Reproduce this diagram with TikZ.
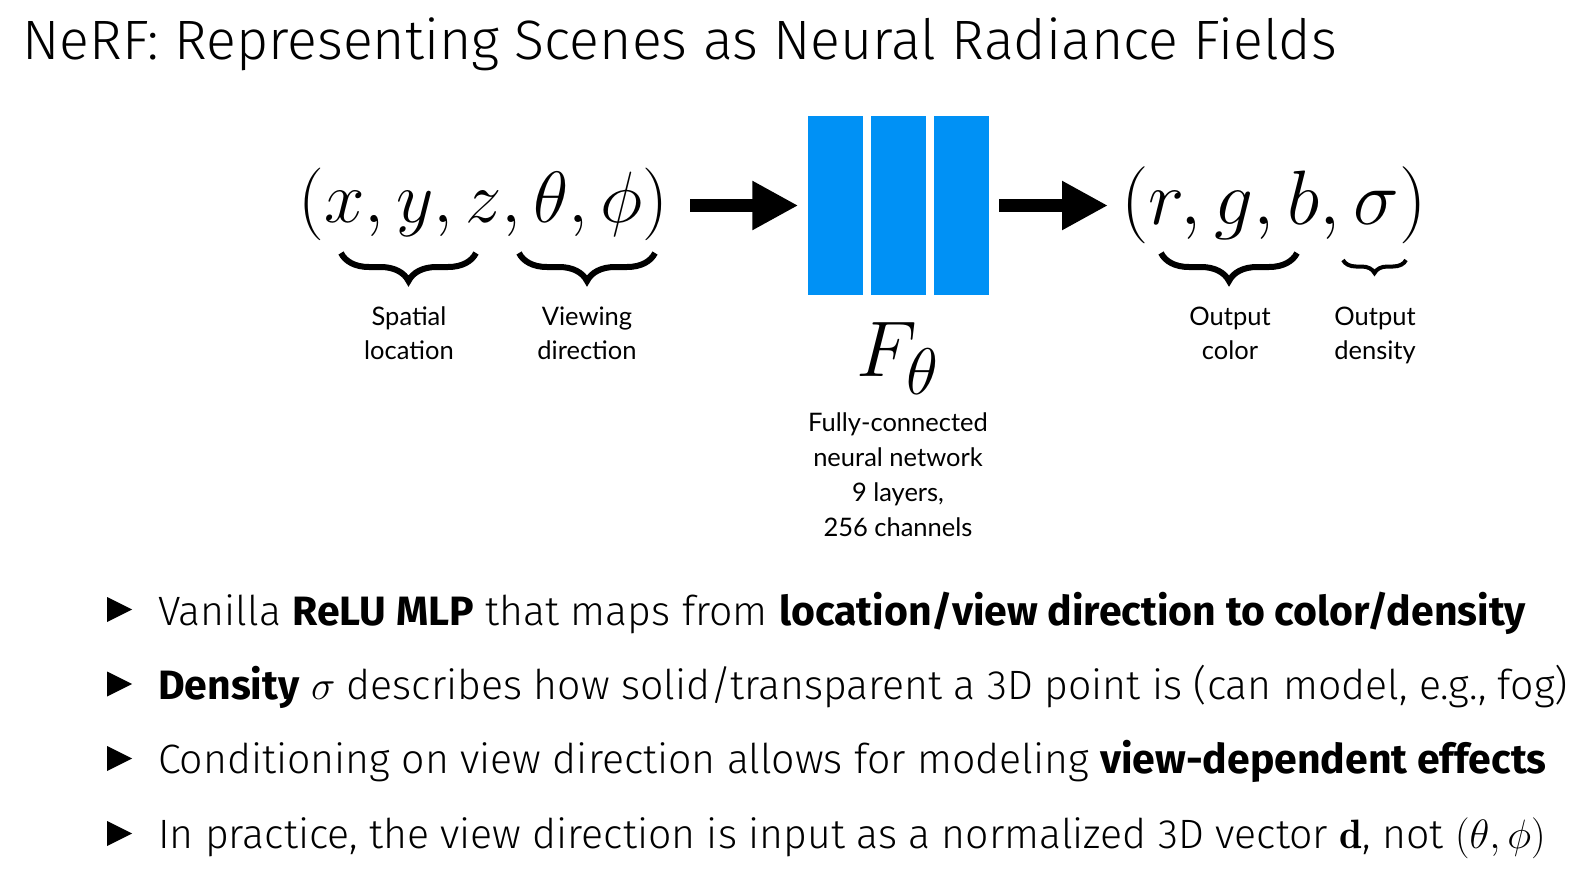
\documentclass[tikz,border=0pt]{standalone}
\usepackage{amsmath}
\usepackage{fontspec}
\usepackage{tikz}
\usetikzlibrary{arrows.meta,positioning,shapes.geometric,decorations.pathreplacing}

\newfontfamily\slidefont{Fira Sans}[UprightFont=* Light, BoldFont=* Bold]
\newfontfamily\labelfont{Lato}
\definecolor{layerblue}{RGB}{0,145,245}
% math inside the 41pt bullet text
\newcommand{\bmath}[1]{\scalebox{1.648}{\Huge$#1$}}

\begin{document}
\begin{tikzpicture}[x=1pt,y=-1pt,
    layer/.style={fill=layerblue,minimum width=55pt,minimum height=179pt,inner sep=0pt},
    tuple/.style={inner sep=0pt,anchor=base,font=\Huge},
    lbl/.style={align=center,inner sep=0pt,anchor=base,font=\labelfont\fontsize{25.5}{33.5}\selectfont},
    arr/.style={line width=13pt,-{Triangle[length=46pt,width=46pt]}},
    brace/.style={decorate,decoration={brace,mirror,amplitude=28pt},line width=6pt},
    point/.style={anchor=base west,inner sep=0pt,font=\slidefont\fontsize{41}{48}\selectfont},
    bul/.style={isosceles triangle,isosceles triangle stretches,minimum width=25pt,minimum height=25pt,inner sep=0pt,fill,anchor=west}]
    \useasboundingbox (0,0) rectangle (1594,868);

    % title
    \node[anchor=base west,inner sep=0pt,font=\slidefont\fontsize{55.5}{62}\selectfont] (title) at (22,59) {NeRF: Representing Scenes as Neural Radiance Fields};

    % input, network, output
    \node[tuple,scale=2.92] (in) at (483.5,222) {$(x,y,z,\theta,\phi)$};
    \node[layer] (l1) at (835,205.5) {};
    \node[layer] (l2) at (898,205.5) {};
    \node[layer] (l3) at (961,205.5) {};
    \node[tuple,scale=3.1] (out) at (1274,224.5) {$(r,g,b,\sigma)$};
    \draw[arr,shorten <=21pt,shorten >=9pt] (in.east |- l1.west) -- (l1.west);
    \draw[arr,shorten <=10.5pt,shorten >=13pt] (l3.east) -- (l3.east -| out.west);

    % braces under the tuples
    \draw[brace] (341,253) -- (476,253);
    \draw[brace] (519,253) -- (655,253);
    \draw[brace] (1161,253) -- (1297,253);
    \draw[brace,decoration={amplitude=13pt},line width=4pt] (1343,260) -- (1406,260);

    \node[inner sep=0pt,anchor=base,scale=3.175,font=\Huge] (F) at (898,376) {$F_\theta$};
    \node[lbl,font=\labelfont\fontsize{25.5}{35}\selectfont] (net) at (898,536) {Fully-connected\\neural network\\9 layers,\\256 channels};

    \node[lbl] (spatial) at (409,359) {Spatial\\location};
    \node[lbl] (viewing) at (587,359) {Viewing\\direction};
    \node[lbl] (color) at (1230,359) {Output\\color};
    \node[lbl] (density) at (1375,359) {Output\\density};

    % bullet points
    \node[bul] (b1) at (107,609.5) {};
    \node[point] (p1) at (158,625) {Vanilla \textbf{ReLU MLP} that maps from \textbf{location/view direction to color/density}};
    \node[bul] (b2) at (107,684) {};
    \node[point] (p2) at (158,699.3) {\textbf{Density} \bmath{\sigma} describes how solid/transparent a 3D point is (can model, e.g., fog)};
    \node[bul] (b3) at (107,758.5) {};
    \node[point] (p3) at (158,773.7) {Conditioning on view direction allows for modeling \textbf{view-dependent effects}};
    \node[bul] (b4) at (107,833.5) {};
    \node[point] (p4) at (158,848) {In practice, the view direction is input as a normalized 3D vector \bmath{\mathbf{d}}, not \bmath{(\theta,\phi)}};
\end{tikzpicture}
\end{document}
